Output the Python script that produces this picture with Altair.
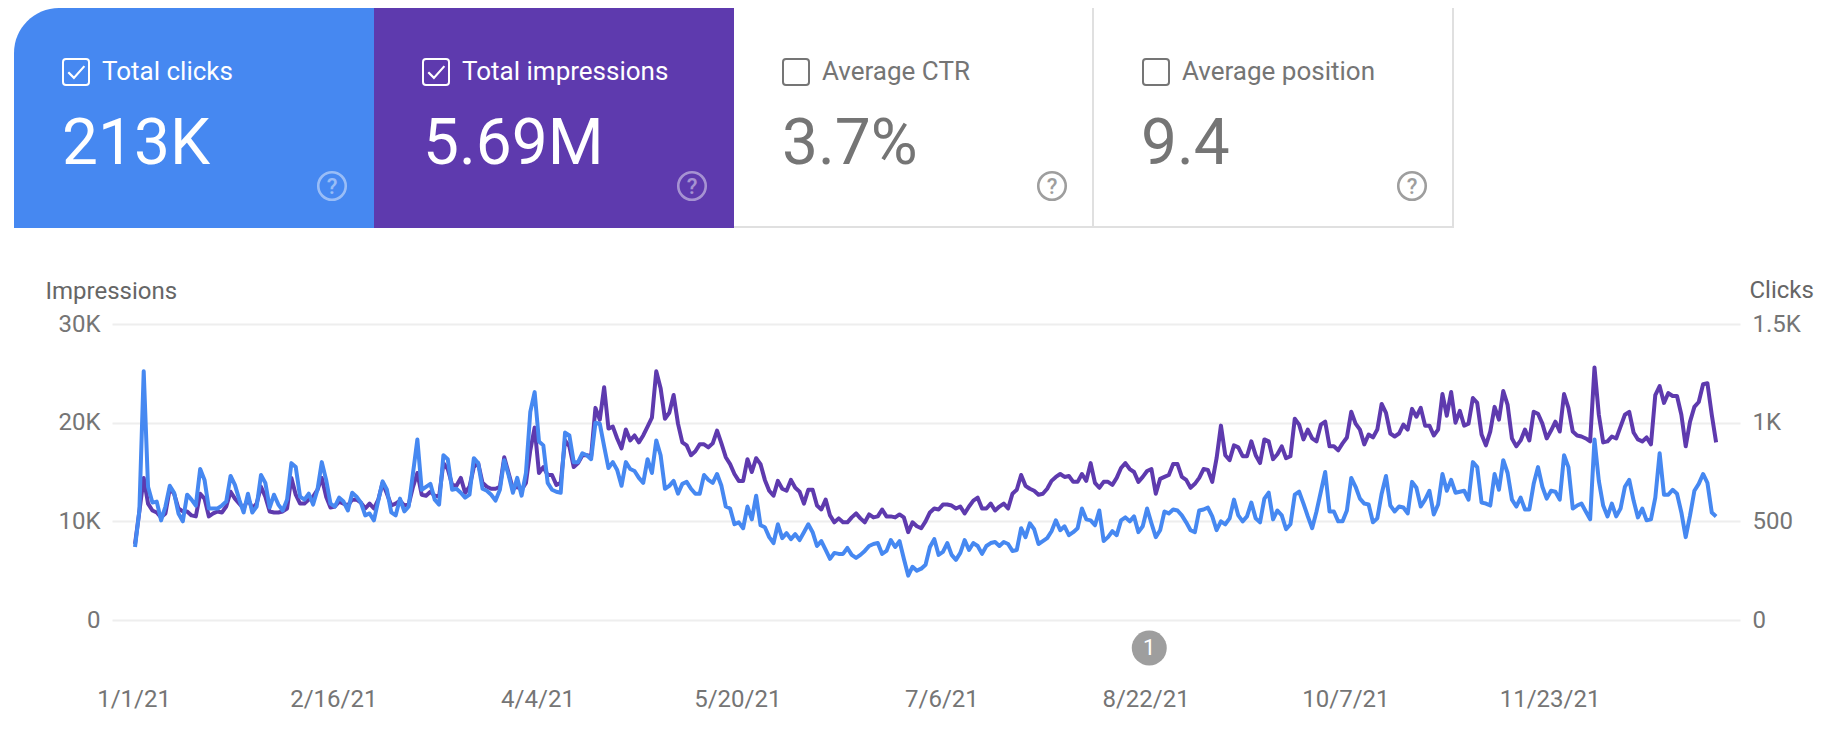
import altair as alt
import pandas as pd

# Impressions, thousands per day
impressions_k = [
 7.7,11.0,14.4,11.8,11.1,10.9,10.4,10.8,13.3,12.8,11.3,11,11,10.6,10.5,12.8,12.3,10.5,10.8,11,
 10.9,11.5,13,12.3,11.8,11.3,12.3,11.3,11.8,13.5,12.5,11,10.9,10.9,11,11.3,14.4,12.7,11.8,11.8,
 12.2,12.5,13.2,14.4,12.5,11.4,11.5,12,11.8,11.6,12.2,12.2,11.9,11.3,11.8,11.3,12.2,13.9,12.8,11.6,
 11.8,
 12.1,11.6,11.7,13.5,14.9,12.7,12.6,13,12.6,12.5,15.9,15.3,13.7,13.6,14.4,12.9,13.5,15.5,15.9,13.9,
 13.5,13.3,13.3,13.5,16.5,14.9,13.3,13.5,13.2,13.9,17.2,19.5,14.9,15.5,14.7,14.7,13.7,13.9,18.2,17.6,
 15.5,15.9,16.7,16.7,16.6,21.5,20.3,23.6,19.4,19.6,18.4,17.4,19.3,18.2,18.7,18,18.7,19.6,20.5,25.2,
 23.5,20.4,21,22.8,19.9,18,17.7,16.7,17.1,
 17.8,17.8,17.5,17.9,19.2,17.9,16.5,15.8,14.8,14.1,14.1,16.3,15,16.4,15.8,14.2,13.1,12.6,14.1,13.3,
 13.1,14.2,13.4,13,11.8,13.2,13.2,11.6,11.2,12.2,10.6,9.9,10.3,9.9,9.9,10.4,10.8,10.3,9.9,10.7,
 10.4,10.5,11.2,10.5,10.5,10.4,10.7,10.4,8.9,9.9,9.5,9.3,10,10.9,11.3,11.2,11.7,11.7,11.6,11.3,
 11.5,10.8,11.5,12.1,12.4,11.3,11.3,11.8,11.1,11.5,
 11.8,11.3,12.8,13.2,14.7,13.6,13.3,13.1,12.7,12.8,13.3,14.1,14.5,14.8,14.5,14.6,14,14,14.8,14.1,
 15.9,13.9,13.4,14,14,13.7,14.4,15.4,15.9,15.3,15,14,14.5,15.1,15.3,12.8,14.3,14.5,14.7,15.8,
 15.8,14.5,14.2,13.4,13.8,14.4,15.3,15.2,14,16.4,19.7,16.7,16.2,17.7,17.5,16.6,16.6,18.1,16.7,15.9,
 18.3,18.1,16.3,16.8,17.6,16.4,16.6,20.4,19.8,
 18.3,19.3,18.4,18.1,19.8,20.1,17.6,17.6,17.2,17.9,18.5,21.1,19.9,19.3,17.8,18.8,18.5,19.3,21.9,21,
 18.9,18.6,18.9,19.8,19.3,21.4,20.6,21.5,19.7,19.7,18.7,19.3,22.9,20.7,23.1,20,21.2,19.7,19.9,22.5,
 22,18.8,17.7,19.1,21.6,20.3,23.2,21.8,18.4,17.6,18.2,19.3,18.2,21.1,20.9,19.9,18.4,19.2,20.1,19.1,
 22.9,21.5,19.1,18.7,18.6,18.4,18.1,25.6,
 20.8,18,18.1,18.6,18.4,19.6,20.8,21.1,19,18.3,18.1,18.5,17.8,22.8,23.7,22,23,22.7,22.7,20.8,
 17.6,20.1,21.6,22.1,23.9,24,20.8,18,
]

# Clicks per day, in units of 50 clicks (the same gridlines as thousands of impressions)
clicks_50 = [
 7.4,11.1,25.2,13.5,11.9,12,10.1,11.5,13.6,12.9,10.8,10,12.7,12.2,11.6,15.3,14.2,11.3,11.3,11.3,
 11.6,12,14.6,13.7,12.2,10.9,12.8,10.9,11.5,14.7,13.9,11.4,12.7,11.7,11.1,12.2,15.9,15.5,12.5,12.2,
 12.8,11.7,13.2,16,14.2,11.8,11.5,12.4,12,11.1,12.9,12.5,11.9,10.6,10.8,10.1,12.1,14.05,13.2,10.9,
 10.6,
 12.3,11,11.5,14.9,18.3,13.2,13.5,13.8,12.2,11.7,16.7,16.3,13.2,13.3,12.9,12.4,12.7,16.4,15.9,13.3,
 13.1,12.7,12.1,13.2,16.2,14.7,12.9,14.4,12.6,14.9,21.1,23.1,18.1,17.7,13.9,13.2,13,12.9,19,18.7,
 16,16,16.9,16.7,16.3,20,19.9,17.6,15.4,16,15.2,13.6,16,15.3,15.1,14.4,13.9,16.3,14.9,18.2,
 16.7,13.3,13.6,14.1,12.8,13.8,14,13.3,12.8,
 12.8,14.7,14.2,13.9,14.8,13.6,11.5,11.3,9.7,9.9,9.3,11.5,10.2,12.6,9.6,9.4,8.4,7.8,9.7,8.3,
 8.8,8.2,8.7,8.1,8.9,9.7,8.9,7.5,8,7.1,6.2,6.8,6.7,6.7,7.3,6.6,6.3,6.6,7,7.5,
 7.7,7.8,6.7,7,8.1,7.4,8,6.2,4.5,5.4,5,5.2,5.6,7.4,8.2,6.6,6.9,7.8,6.6,6.1,
 6.8,8.1,7.1,7.8,7.5,6.7,7.5,7.8,7.9,7.5,
 7.9,7.7,7,7.1,9.3,8.4,9.8,9.2,7.7,8,8.3,9,10.1,9.1,9.5,8.6,8.9,9.3,11.3,10.2,
 10.1,9.6,11.1,8,8.4,9,8.6,10.1,10.4,10,10.5,8.9,9.5,11.3,9.8,8.4,9.1,11,10.8,11.2,
 11.1,10.6,9.9,9.1,8.9,11.1,11.2,11.4,10.5,9.1,10,9.7,10.3,12.2,10.6,10,10.5,11.9,10.3,9.9,
 12.3,12.9,10.2,11.1,10.6,9.2,9.7,12.7,13,
 11.8,10.5,9.3,11,13,15,11,11,10,10,11.1,14.4,13.5,12.3,11.8,11.7,9.9,10.3,12.8,14.6,
 11.6,11,11.5,11.4,10.8,14,13.4,11.5,12.2,13.1,10.7,11.7,14.8,13.1,14.2,12.9,13,13.1,12.2,16,
 15.5,11.9,11.8,11.6,14.8,13.2,16.2,14.9,12.2,11.5,12.4,11.2,11.2,13.8,15.5,13.5,12.3,13.1,13,12.2,
 16.7,15.5,11.3,11.6,11.8,11,10.2,18.3,
 14.1,11.6,10.5,11.8,10.5,11.3,13.5,14.2,12.1,10.4,11.3,10.1,10.2,12.4,16.9,12.7,12.7,13.2,12.8,10.9,
 8.4,10.6,13.1,13.8,14.8,13.9,10.9,10.5,
]

tick_dates = ["2021-01-01","2021-02-16","2021-04-04","2021-05-20","2021-07-06","2021-08-22","2021-10-07","2021-11-23"]
annotation_date = ["2021-08-22T12:00"]
annotation_label = ["1"]
impression_ticks = [0, 10000, 20000, 30000]
click_ticks = [0, 500, 1000, 1500]

card_names = ["Total clicks", "Total impressions", "Average CTR", "Average position"]
card_values = ["213K", "5.69M", "3.7%", "9.4"]

BLUE, PURPLE = "#4688F1", "#5E3AAE"
GRAY, ICON, BORDER = "#757575", "#9E9E9E", "#E0E0E0"
TITLE = "#666666"
FONT = "Roboto"
OX, OY = 112, 324   # plot origin on the page
PW, PH = 1628, 296

def ms(s):
    return int(pd.Timestamp(s, tz="UTC").value // 10**6)

day = 86400000
dates = pd.date_range("2021-01-01", periods=len(impressions_k), tz="UTC")
df = pd.DataFrame({
    "date": [int(d.value // 10**6) for d in dates],
    "impressions": [v * 1000 for v in impressions_k],
    "clicks": [v * 50 for v in clicks_50],
})
assert len(impressions_k) == 365 and len(clicks_50) == 365

xscale = alt.Scale(type="utc", domain=[ms("2021-01-01") - 5.3 * day, ms("2021-12-31") + 5.5 * day])

xaxis = alt.Axis(
    values=[ms(d) for d in tick_dates],
    labelExpr="utcFormat(datum.value, '%-m/%-d/%y')",
    title=None, domain=False, ticks=False, grid=False,
    labelFont=FONT, labelFontSize=24, labelColor=GRAY, labelBaseline="alphabetic",
    labelPadding=86, labelOffset=-1.5, labelOverlap=False, labelFlush=False, labelBound=False,
)
X = alt.X("date:T", scale=xscale, axis=xaxis)

impr = alt.Chart(df).mark_line(color=PURPLE, strokeWidth=4, strokeJoin="round").encode(
    x=X,
    y=alt.Y("impressions:Q", scale=alt.Scale(domain=[0, 30000]), axis=alt.Axis(
        orient="left", values=impression_ticks,
        labelExpr="datum.value == 0 ? '0' : (datum.value / 1000) + 'K'",
        title="Impressions", titleAngle=0, titleX=-67, titleY=-26, titleAlign="left",
        titleBaseline="alphabetic", titleFont=FONT, titleFontSize=24, titleFontWeight="normal",
        titleColor=TITLE, labelFont=FONT, labelFontSize=24, labelColor=GRAY,
        labelPadding=12, domain=False, ticks=False, grid=True, gridColor="#EEEEEE", gridWidth=2,
        labelBound=False, labelFlush=False, labelOverlap=False)),
)
clicks = alt.Chart(df).mark_line(color=BLUE, strokeWidth=4, strokeJoin="round").encode(
    x=X,
    y=alt.Y("clicks:Q", scale=alt.Scale(domain=[0, 1500]), axis=alt.Axis(
        orient="right", values=click_ticks,
        labelExpr="datum.value >= 1000 ? (datum.value / 1000) + 'K' : datum.value + ''",
        title="Clicks", titleAngle=0, titleX=9, titleY=-27, titleAlign="left",
        titleBaseline="alphabetic", titleFont=FONT, titleFontSize=24, titleFontWeight="normal",
        titleColor=TITLE, labelFont=FONT, labelFontSize=24, labelColor=GRAY,
        labelPadding=12, domain=False, ticks=False, grid=False,
        labelBound=False, labelFlush=False, labelOverlap=False)),
)

def px(v): return alt.value(v - OX)
def py(v): return alt.value(v - OY)

def box(x0, x1, y0, y1, **mk):
    return alt.Chart(alt.Data(values=[{}])).mark_rect(**mk).encode(x=px(x0), x2=px(x1), y=py(y0), y2=py(y1))

def label(txt, x, y, size, color, **mk):
    return alt.Chart(alt.Data(values=[{}])).mark_text(
        text=txt, font=FONT, fontSize=size, color=color, align=mk.pop("align", "left"),
        baseline=mk.pop("baseline", "alphabetic"), **mk).encode(x=px(x), y=py(y))

layers = [
    box(14, 374, 8, 228, color=BLUE, cornerRadiusTopLeft=45),
    box(374, 734, 8, 228, color=PURPLE),
    box(734, 1454, 226, 228, color=BORDER),
    box(1092, 1094, 8, 226, color=BORDER),
    box(1452, 1454, 8, 228, color=BORDER),
]

cards = [
    (card_names[0], card_values[0], 63, 102, 62, True, "#FFFFFF", 332),
    (card_names[1], card_values[1], 423, 462, 423, True, "#FFFFFF", 692),
    (card_names[2], card_values[2], 783, 822, 782, False, GRAY, 1052),
    (card_names[3], card_values[3], 1143, 1182, 1141, False, GRAY, 1412),
]
for name, val, cbx, lx, vx, checked, col, hx in cards:
    layers.append(box(cbx, cbx + 26, 59, 85, fillOpacity=0, stroke=col, strokeWidth=2, cornerRadius=3))
    if checked:
        layers.append(alt.Chart(alt.Data(values=[{}])).mark_point(
            shape="M-0.55,0.02 L-0.15,0.42 L0.6,-0.42", filled=False, stroke=col, strokeWidth=2.2,
            size=784, opacity=1).encode(x=px(cbx + 13), y=py(72)))
    layers.append(label(name, lx, 80, 26, col))
    layers.append(label(val, vx, 164, 64, col, fontWeight=400))
    hc, ho = ("#FFFFFF", 0.45) if checked else (ICON, 1)
    layers.append(alt.Chart(alt.Data(values=[{}])).mark_point(
        shape="circle", filled=False, stroke=hc, strokeWidth=2.6, size=756, opacity=ho
    ).encode(x=px(hx), y=py(186)))
    layers.append(label("?", hx, 194, 22, hc, align="center", opacity=ho, fontWeight=500))

ann = pd.DataFrame({"date": [ms(d) for d in annotation_date], "label": annotation_label})
ann_dot = alt.Chart(ann).mark_point(shape="circle", filled=True, color=ICON, size=1225, opacity=1).encode(
    x=X, y=py(648))
ann_txt = alt.Chart(ann).mark_text(font=FONT, fontSize=22, color="#FFFFFF", baseline="middle").encode(
    x=X, y=py(648), text="label:N")

chart = alt.layer(*layers, impr, clicks, ann_dot, ann_txt).resolve_scale(y="independent").properties(
    width=PW, height=PH,
    padding={"left": OX - 8, "top": OY - 8, "right": 90, "bottom": 96},
    autosize=alt.AutoSizeParams(type="none"),
).configure_view(stroke=None)

chart.save("out.html", embed_options={"renderer": "svg", "actions": False})
